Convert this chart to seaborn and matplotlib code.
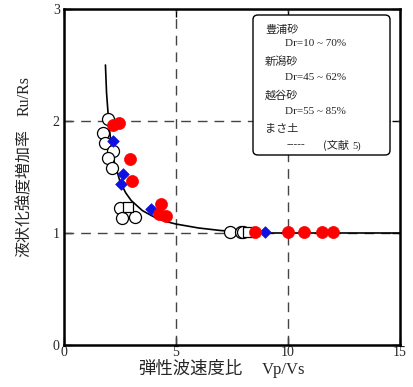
import numpy as np
import pandas as pd
import matplotlib
matplotlib.use("Agg")
import matplotlib.pyplot as plt
from matplotlib.patches import FancyBboxPatch
import seaborn as sns

# ---- data ----
curve_x = [1.85, 1.9, 2.0, 2.1, 2.25, 2.5, 2.75, 3.0, 3.5, 4.0, 4.5, 5.0, 6.0, 7.0, 8.0, 9.0, 15.0]
curve_y = [2.50, 2.25, 1.98, 1.80, 1.63, 1.46, 1.36, 1.29, 1.20, 1.145, 1.105, 1.08, 1.045, 1.022, 1.01, 1.0, 1.0]

open_x = [1.98, 1.76, 1.83, 2.20, 1.98, 2.13, 2.50, 2.58, 3.17, 7.41, 7.89, 8.00]
open_y = [2.02, 1.89, 1.80, 1.73, 1.67, 1.58, 1.22, 1.13, 1.14, 1.01, 1.01, 1.01]

square_x = [2.87, 8.20]
square_y = [1.23, 1.01]

red_x = [2.20, 2.47, 2.95, 3.02, 4.33, 4.25, 4.55, 8.53, 10.01, 10.71, 11.50, 12.00]
red_y = [1.96, 1.98, 1.66, 1.46, 1.26, 1.17, 1.15, 1.01, 1.01, 1.01, 1.01, 1.01]

blue_x = [2.20, 2.62, 2.53, 3.87, 8.97]
blue_y = [1.82, 1.53, 1.44, 1.21, 1.01]

x_ticks = [0, 5, 10, 15]
y_ticks = [0, 1, 2, 3]

legend_rows = [("豊浦砂", "Dr=10 ~ 70%"), ("新潟砂", "Dr=45 ~ 62%"),
               ("越谷砂", "Dr=55 ~ 85%"), ("まさ土", None)]

sns.set_theme(style="white")
CJK = ["Noto Sans CJK JP", "DejaVu Sans"]
SERIF = ["Liberation Serif", "DejaVu Serif"]

fig = plt.figure(figsize=(4.13, 3.87), dpi=100)
ax = fig.add_axes([64/413, 1-345/387, 336/413, 336/387])

# grid (dashed)
for gx in [5, 10]:
    ax.axvline(gx, color="#444444", lw=1.0, ls=(0, (7, 5)), zorder=1)
for gy in [1, 2]:
    ax.axhline(gy, color="#444444", lw=1.0, ls=(0, (7, 5)), zorder=1)

curve = pd.DataFrame({"x": curve_x, "y": curve_y})
sns.lineplot(data=curve, x="x", y="y", sort=False, color="black", lw=1.2, ax=ax, zorder=2)

sns.scatterplot(x=open_x, y=open_y, marker="o", s=75, facecolor="white",
                edgecolor="black", linewidth=0.9, ax=ax, zorder=3)
sns.scatterplot(x=square_x, y=square_y, marker="s", s=55, facecolor="white",
                edgecolor="black", linewidth=0.9, ax=ax, zorder=3)
sns.scatterplot(x=blue_x, y=blue_y, marker="D", s=35, color="#1010e0",
                edgecolor="#1010e0", linewidth=0.5, ax=ax, zorder=4)
sns.scatterplot(x=red_x, y=red_y, marker="o", s=75, color="#ff0000",
                edgecolor="#ff0000", linewidth=0.5, ax=ax, zorder=5)

ax.set_xlim(0, 15)
ax.set_ylim(0, 3)
ax.set_xticks(x_ticks)
ax.set_yticks(y_ticks)
ax.set_xticklabels([str(v) for v in x_ticks], family=SERIF, fontsize=10)
ax.set_yticklabels([str(v) for v in y_ticks], family=SERIF, fontsize=10)
ax.tick_params(axis="both", direction="in", length=6, width=1.0, color="black",
               top=True, right=True, bottom=True, left=True)
ax.tick_params(axis="x", pad=1)
ax.tick_params(axis="y", pad=3)
ax.set_xlabel("")
ax.set_ylabel("")
for sp in ax.spines.values():
    sp.set_color("black")
    sp.set_linewidth(1.8)

# axis labels
fig.text(190/413, 1-369/387, "弾性波速度比", family=CJK, fontsize=12.5,
         ha="center", va="center")
fig.text(284/413, 1-370/387, "Vp/Vs", family=SERIF, fontsize=12,
         ha="center", va="center")
fig.text(24/413, 1-193/387, "液状化強度増加率", family=CJK, fontsize=11.5,
         ha="center", va="center", rotation=90)
fig.text(25/413, 1-96/387, "Ru/Rs", family=SERIF, fontsize=11.5,
         ha="center", va="center", rotation=90)

# legend box (text only, rounded)
box = FancyBboxPatch((253/413, 1-155/387), 137/413, 140/387,
                     boxstyle="round,pad=0,rounding_size=0.012",
                     transform=fig.transFigure, facecolor="white",
                     edgecolor="black", lw=1.0, zorder=10)
fig.patches.append(box)
ys = [(30, 44), (62, 78), (95, 111), (128, 145)]
for (name, dr), (y1, y2) in zip(legend_rows, ys):
    fig.text(265/413, 1-y1/387, name, family=CJK, fontsize=8, ha="left",
             va="center", zorder=11)
    if dr is not None:
        fig.text(285/413, 1-y2/387, dr, family=SERIF, fontsize=8, ha="left",
                 va="center", zorder=11)
fig.text(287/413, 1-145/387, "-----", family=SERIF, fontsize=8, ha="left",
         va="center", zorder=11)
fig.text(323/413, 1-145/387, "(文献", family=CJK + SERIF, fontsize=8, ha="left",
         va="center", zorder=11)
fig.text(352/413, 1-146/387, "5)", family=SERIF, fontsize=7.5, ha="left",
         va="center", zorder=11)

fig.savefig("out.png", dpi=100)
